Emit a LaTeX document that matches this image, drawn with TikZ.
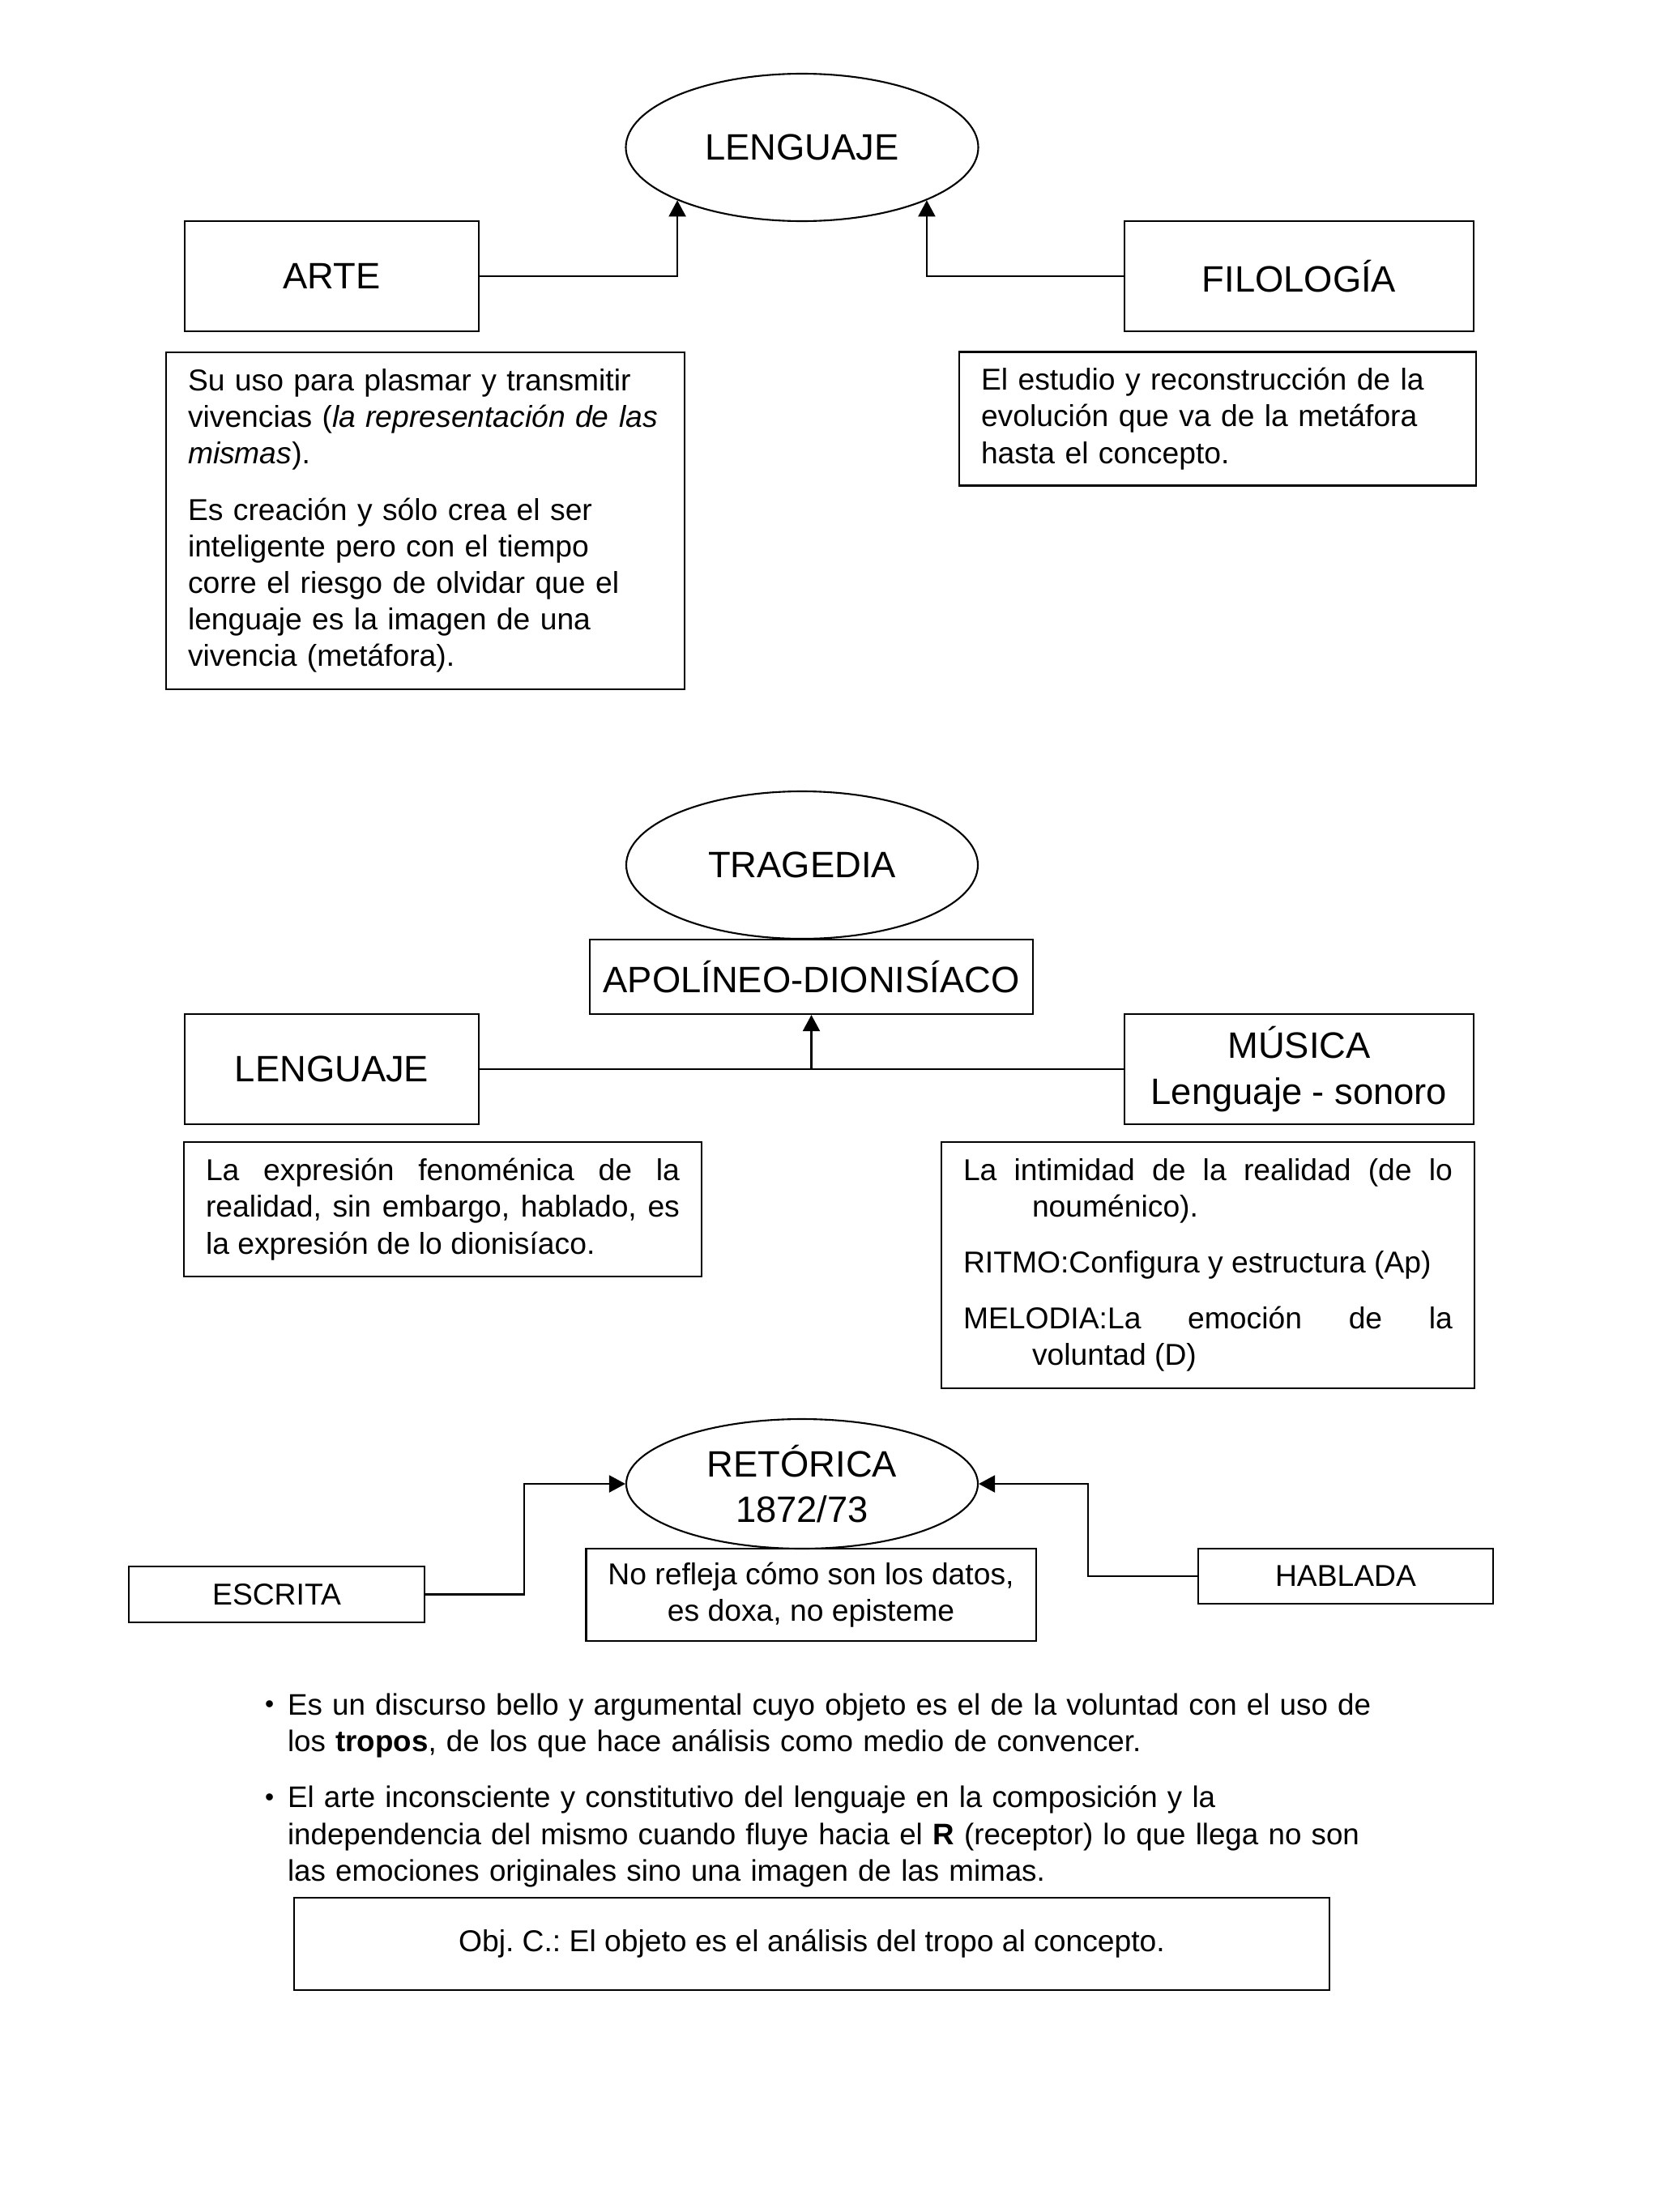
\documentclass[tikz,border=0pt]{standalone}
\usepackage{fontspec}
\setmainfont{Liberation Sans}
\usetikzlibrary{arrows.meta,shapes.geometric}
\newcommand{\titulo}{\fontsize{12.9}{16}\selectfont}
\newcommand{\cuerpo}{\fontsize{10.6}{12.85}\selectfont\frenchspacing}
\newcommand{\vineta}{\makebox[0.28cm][l]{\raisebox{0.6pt}{\fontsize{9}{9}\selectfont\textbullet}}}

\begin{document}
\begin{tikzpicture}[>={Triangle[length=2mm,width=2.1mm]},line width=0.6pt,
    ovalo/.style={draw,ellipse,inner sep=0pt,font=\titulo,align=center},
    caja/.style={draw,inner sep=0pt,font=\titulo,align=center},
    cajatxt/.style={draw,inner xsep=0.27cm,inner ysep=0pt,font=\cuerpo},
    nota/.style={inner sep=0pt,font=\cuerpo,align=left}]
  \useasboundingbox (0,0) rectangle (20.48,-27.31);

  % lenguaje
  \node[ovalo,minimum width=4.35cm,minimum height=1.82cm] (lang1) at (9.90,-1.82) {LENGUAJE};
  \node[caja,minimum width=3.63cm,minimum height=1.36cm] (arte) at (4.095,-3.41) {ARTE};
  \node[caja,minimum width=4.31cm,minimum height=1.36cm] (filo) at (16.035,-3.41) {FILOLOGÍA};
  \node[cajatxt,align=left,text width=5.86cm,minimum height=4.16cm] (artetxt) at (5.25,-6.43)
    {\setlength{\parskip}{6.8pt}Su uso para plasmar y transmitir\newline
     vivencias (\textit{la representación de las}\newline
     \textit{mismas}).\par
     Es creación y sólo crea el ser\newline
     inteligente pero con el tiempo\newline
     corre el riesgo de olvidar que el\newline
     lenguaje es la imagen de una\newline
     vivencia (metáfora).};
  \node[cajatxt,align=left,text width=5.84cm,minimum height=1.65cm] (filotxt) at (15.03,-5.17)
    {El estudio y reconstrucción de la\newline
     evolución que va de la metáfora\newline
     hasta el concepto.};
  \draw[->] (arte.east) -| (lang1.203);
  \draw[->] (filo.west) -| (lang1.337);

  % tragedia
  \node[ovalo,minimum width=4.34cm,minimum height=1.82cm] (trag) at (9.90,-10.68) {TRAGEDIA};
  \node[caja,minimum width=5.47cm,minimum height=0.92cm] (apolo) at (10.015,-12.06) {APOLÍNEO-DIONISÍACO};
  \node[caja,minimum width=3.63cm,minimum height=1.36cm] (leng2) at (4.095,-13.20) {LENGUAJE};
  \node[caja,minimum width=4.31cm,minimum height=1.36cm] (musica) at (16.035,-13.20) {MÚSICA\\ Lenguaje - sonoro};
  \node[cajatxt,align=justify,text width=5.85cm,minimum height=1.66cm] (lengtxt) at (5.465,-14.93)
    {La expresión fenoménica de la\linebreak
     realidad, sin embargo, hablado, es\linebreak
     la expresión de lo dionisíaco.};
  \node[cajatxt,align=justify,text width=6.04cm,minimum height=3.04cm] (mustxt) at (14.91,-15.62)
    {\setlength{\parskip}{6.8pt}\leavevmode\hangindent=0.85cm\hangafter=1
     La intimidad de la realidad (de lo\linebreak nouménico).\par
     RITMO:Configura y estructura (Ap)\par
     \leavevmode\hangindent=0.85cm\hangafter=1
     MELODIA:La emoción de la\linebreak voluntad (D)\par};
  \draw (leng2.east) -- (musica.west);
  \draw[->] (apolo.south |- leng2.east) -- (apolo.south);

  % retorica
  \node[ovalo,minimum width=4.34cm,minimum height=1.6cm] (ret) at (9.90,-18.32) {RETÓRICA\\ 1872/73};
  \node[cajatxt,align=center,minimum width=5.46cm,minimum height=1.14cm] (doxa) at (10.01,-19.69)
    {No refleja cómo son los datos,\\ es doxa, no episteme};
  \node[cajatxt,minimum width=3.65cm,minimum height=0.69cm] (escrita) at (3.415,-19.685) {ESCRITA};
  \node[cajatxt,minimum width=3.64cm,minimum height=0.68cm] (hablada) at (16.61,-19.46) {HABLADA};
  \draw[->] (escrita.east) -| ([xshift=-1.25cm]ret.west) -- (ret.west);
  \draw[->] (hablada.west) -| ([xshift=1.35cm]ret.east) -- (ret.east);

  \node[nota,font=\fontsize{10.45}{12.85}\selectfont,text width=14.2cm,anchor=base west] (notas) at (3.26,-21.17)
    {\setlength{\parskip}{7pt}%
     \vineta\hangindent=0.28cm\hangafter=1
     Es un discurso bello y argumental cuyo objeto es el de la voluntad con el uso de\newline
     los \textbf{tropos}, de los que hace análisis como medio de convencer.\par
     \vineta\hangindent=0.28cm\hangafter=1
     El arte inconsciente y constitutivo del lenguaje en la composición y la\newline
     independencia del mismo cuando fluye hacia el \textbf{R} (receptor) lo que llega no son\newline
     las emociones originales sino una imagen de las mimas.\par};
  \node[cajatxt,minimum width=12.78cm,minimum height=1.14cm] (obj) at (10.02,-24.00)
    {Obj. C.: El objeto es el análisis del tropo al concepto.};
\end{tikzpicture}
\end{document}
